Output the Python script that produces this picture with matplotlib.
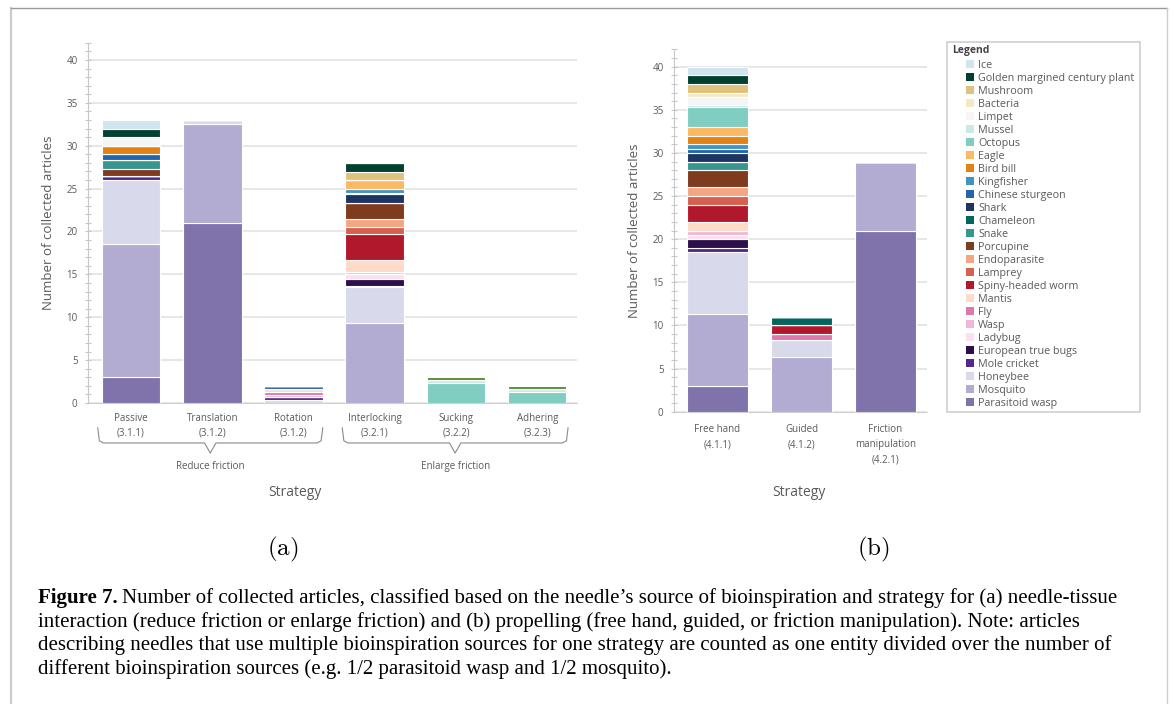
import numpy as np
import matplotlib
matplotlib.use('Agg')
import matplotlib.pyplot as plt
import matplotlib.transforms as mtransforms
from matplotlib.patches import Patch, Rectangle
from matplotlib.lines import Line2D

W, H = 1173, 704
plt.rcParams['font.family'] = ['Open Sans', 'DejaVu Sans']
plt.rcParams['mathtext.fontset'] = 'cm'

# bars: Passive, Translation, Rotation, Interlocking, Sucking, Adhering | Free hand, Guided, Friction manipulation
labels_a = ['Passive\n(3.1.1)', 'Translation\n(3.1.2)', 'Rotation\n(3.1.2)',
            'Interlocking\n(3.2.1)', 'Sucking\n(3.2.2)', 'Adhering\n(3.2.3)']
labels_b = ['Free hand\n(4.1.1)', 'Guided\n(4.1.2)', 'Friction\nmanipulation\n(4.2.1)']

# one list per source of bioinspiration (first 6 values panel a, last 3 panel b)
parasitoid_wasp = [3, 21, 0, 0, 0, 0, 3, 0, 21]
mosquito = [15.5, 11.5, 0, 9.33, 0, 0, 8.33, 6.33, 8]
honeybee = [7.5, 0.5, 0.33, 4.17, 0, 0, 7.17, 2, 0]
mole_cricket = [0.5, 0, 0.33, 0.17, 0, 0, 0.5, 0, 0]
european_true_bugs = [0, 0, 0, 0.83, 0, 0, 1, 0, 0]
ladybug = [0, 0, 0, 0.5, 0, 0, 0.5, 0, 0]
wasp = [0, 0, 0.33, 0.33, 0, 0, 0.5, 0, 0]
fly = [0, 0, 0.33, 0, 0, 0, 0, 0.67, 0]
mantis = [0, 0, 0.33, 1.33, 0, 0, 1, 0, 0]
spiny_headed_worm = [0, 0, 0, 3, 0, 0, 2, 1, 0]
lamprey = [0, 0, 0, 0.83, 0, 0, 1, 0, 0]
endoparasite = [0, 0, 0, 1, 0, 0, 1, 0, 0]
porcupine = [0.83, 0, 0, 1.83, 0, 0, 2, 0, 0]
snake = [1, 0, 0, 0, 0, 0, 1, 0, 0]
chameleon = [0, 0, 0, 0, 0, 0, 0, 1, 0]
shark = [0, 0, 0, 1, 0, 0, 1, 0, 0]
chinese_sturgeon = [0.67, 0, 0.33, 0.17, 0, 0, 0.5, 0, 0]
kingfisher = [0, 0, 0, 0.5, 0, 0, 0.5, 0, 0]
bird_bill = [1, 0, 0, 0, 0, 0, 1, 0, 0]
eagle = [0, 0, 0, 1, 0, 0, 1, 0, 0]
octopus = [0, 0, 0, 0, 2.33, 1.33, 2.33, 0, 0]
mussel = [0, 0, 0, 0, 0.33, 0.33, 0.17, 0, 0]
limpet = [1, 0, 0, 0, 0, 0, 1, 0, 0]
bacteria = [0, 0, 0, 0, 0, 0, 0.5, 0, 0]
mushroom = [0, 0, 0, 1, 0, 0, 1, 0, 0]
golden_plant = [1, 0, 0, 1, 0, 0, 1, 0, 0]
ice = [1, 0, 0, 0, 0, 0, 1, 0, 0]
unlisted = [0, 0, 0, 0, 0.33, 0.33, 0, 0, 0]

# stacking order, bottom to top
series = [
    ('Parasitoid wasp', parasitoid_wasp, '#8073ac'),
    ('Mosquito', mosquito, '#b2abd2'),
    ('Honeybee', honeybee, '#d8daeb'),
    ('Mole cricket', mole_cricket, '#542788'),
    ('European true bugs', european_true_bugs, '#2d0f4b'),
    ('Ladybug', ladybug, '#fde0ef'),
    ('Wasp', wasp, '#f1b6da'),
    ('Fly', fly, '#de77ae'),
    ('Mantis', mantis, '#fddbc7'),
    ('Spiny-headed worm', spiny_headed_worm, '#b2182b'),
    ('Lamprey', lamprey, '#d6604d'),
    ('Endoparasite', endoparasite, '#f4a582'),
    ('Porcupine', porcupine, '#7f3b1e'),
    ('Snake', snake, '#35978f'),
    ('Chameleon', chameleon, '#01665e'),
    ('Shark', shark, '#1c3563'),
    ('Chinese sturgeon', chinese_sturgeon, '#2166ac'),
    ('Kingfisher', kingfisher, '#4393c3'),
    ('Bird bill', bird_bill, '#e08214'),
    ('Eagle', eagle, '#fdb863'),
    ('Octopus', octopus, '#80cdc1'),
    ('Mussel', mussel, '#c7eae5'),
    ('Limpet', limpet, '#f5f5f5'),
    ('Bacteria', bacteria, '#f6e8c3'),
    ('Mushroom', mushroom, '#dfc27d'),
    ('Golden margined century plant', golden_plant, '#01402e'),
    ('Ice', ice, '#d1e5f0'),
]
unlisted_color = '#5a8c34'

TXT = '#5a5a5a'
GRID = '#e3e3e3'


def px(x, y):
    return x / W, 1 - y / H


fig = plt.figure(figsize=(W / 100, H / 100), dpi=100)
ax_a = fig.add_axes([88 / W, 1 - 403 / H, 489 / W, 360.2 / H])
ax_b = fig.add_axes([674 / W, 1 - 411.7 / H, 253 / W, 362.3 / H])


def draw_panel(ax, sl, labels, xlim, pad):
    x = np.arange(len(labels))
    bottom = np.zeros(len(labels))
    for name, vals, col in series:
        v = np.array(vals[sl])
        ax.bar(x, v, 0.72, bottom=bottom, color=col, edgecolor='white', linewidth=0.8, zorder=3)
        bottom += v
    if sl.start == 0:
        v = np.array(unlisted[sl])
        ax.bar(x, v, 0.72, bottom=bottom, color=unlisted_color, edgecolor='white', linewidth=0.8, zorder=3)
    ax.set_xlim(*xlim)
    ax.set_ylim(0, 42)
    ax.set_yticks(range(0, 41, 5))
    ax.set_yticks(range(0, 43), minor=True)
    ax.set_xticks(x)
    ax.set_xticklabels(labels, fontsize=7, color=TXT, linespacing=1.5)
    ax.tick_params(axis='x', length=0, pad=pad)
    ax.tick_params(axis='y', which='both', direction='inout', length=5, width=0.8,
                   color='#c8c8c8', labelsize=7, labelcolor=TXT, pad=5)
    ax.grid(axis='y', color=GRID, linewidth=1.2, zorder=0)
    for s in ['top', 'right']:
        ax.spines[s].set_visible(False)
    ax.spines['left'].set_color('#c8c8c8')
    ax.spines['bottom'].set_color('#d0d0d0')
    ax.spines['left'].set_zorder(4)
    ax.set_ylabel('Number of collected articles', fontsize=9.5, color=TXT, labelpad=8)


draw_panel(ax_a, slice(0, 6), labels_a, (-0.53, 5.49), 7)
draw_panel(ax_b, slice(6, 9), labels_b, (-0.518, 2.494), 9)

# braces under panel (a)
tr = mtransforms.blended_transform_factory(ax_a.transData, ax_a.transAxes)


def brace(x0, x1, text):
    xm = (x0 + x1) / 2
    ys, ym, yt = -0.069, -0.111, -0.139
    xs = [x0, x0 + 0.02, x0 + 0.07, xm - 0.07, xm, xm + 0.07, x1 - 0.07, x1 - 0.02, x1]
    yy = [ys, ym + 0.006, ym, ym, yt, ym, ym, ym + 0.006, ys]
    ax_a.add_line(Line2D(xs, yy, transform=tr, color='#8a8a8a', lw=0.8, clip_on=False))
    ax_a.text(xm, -0.177, text, transform=tr, ha='center', va='center', fontsize=7, color=TXT)


brace(-0.41, 2.36, 'Reduce friction')
brace(2.6, 5.38, 'Enlarge friction')

fig.text(*px(295, 492), 'Strategy', ha='center', va='center', fontsize=10, color=TXT)
fig.text(*px(799, 492), 'Strategy', ha='center', va='center', fontsize=10, color=TXT)

# legend box
fig.patches.append(Rectangle(px(946.7, 411.7), (1140 - 946.7) / W, (411.7 - 41.7) / H,
                             transform=fig.transFigure, fill=False, edgecolor='#cfcfcf', lw=1.2))
fig.text(*px(952, 51), 'Legend', ha='left', va='center', fontsize=7.5, fontweight='bold', color='#444444')
handles = [Patch(facecolor=c, edgecolor='none') for _, _, c in series[::-1]]
names = [n for n, _, _ in series[::-1]]
fig.legend(handles, names, loc='upper left', bbox_to_anchor=px(966, 60), frameon=False,
           fontsize=7.75, labelcolor=TXT, handlelength=0.72, handleheight=0.72,
           handletextpad=0.42, labelspacing=0.185, borderpad=0, borderaxespad=0)

# panel letters
fig.text(*px(283, 549), r'$\mathrm{(a)}$', ha='center', va='center', fontsize=18)
fig.text(*px(873, 549), r'$\mathrm{(b)}$', ha='center', va='center', fontsize=18)

# caption
cap = [
    'Number of collected articles, classified based on the needle\u2019s source of bioinspiration and strategy for (a) needle-tissue',
    'interaction (reduce friction or enlarge friction) and (b) propelling (free hand, guided, or friction manipulation). Note: articles',
    'describing needles that use multiple bioinspiration sources for one strategy are counted as one entity divided over the number of',
    'different bioinspiration sources (e.g. 1/2 parasitoid wasp and 1/2 mosquito).',
]
cfs = 15
bold = fig.text(*px(38, 598), 'Figure 7.', ha='left', va='center', fontsize=cfs,
                family='Liberation Serif', fontweight='bold')
fig.canvas.draw()
bb = bold.get_window_extent()
fig.text((bb.x1 + 4) / W, 1 - 598 / H, cap[0], ha='left', va='center', fontsize=cfs, family='Liberation Serif')
for i, line in enumerate(cap[1:]):
    fig.text(*px(38, 622 + 23.3 * i), line, ha='left', va='center', fontsize=cfs, family='Liberation Serif')

# outer frame
fig.add_artist(Line2D([11 / W, 11 / W], [0, 1 - 8 / H], transform=fig.transFigure, color='#cccccc', lw=1.6))
fig.add_artist(Line2D([11 / W, 1167 / W], [1 - 8 / H, 1 - 8 / H], transform=fig.transFigure, color='#9a9a9a', lw=1.0))
fig.add_artist(Line2D([1167 / W, 1167 / W], [0, 1 - 8 / H], transform=fig.transFigure, color='#cccccc', lw=1.0))

fig.savefig('out.png', dpi=100)
